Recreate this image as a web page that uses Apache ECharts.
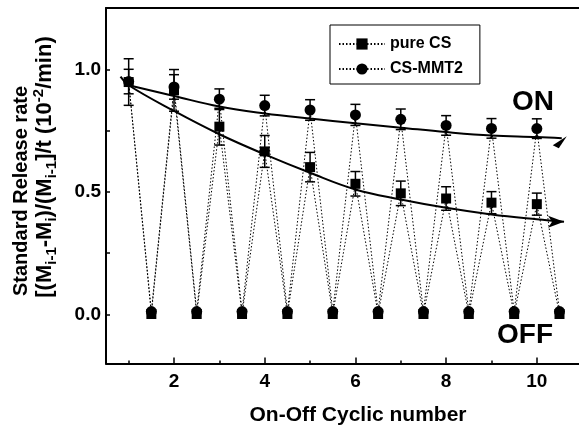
<!DOCTYPE html>
<html><head><meta charset="utf-8">
<script src="https://cdn.jsdelivr.net/npm/echarts@6/dist/echarts.min.js"></script>
<style>html,body{margin:0;padding:0;background:#fff}#c{width:579px;height:426px}</style>
</head><body><div id="c"></div>
<script>
// ---- data ----
var cycleOn  = [1, 2, 3, 4, 5, 6, 7, 8, 9, 10];
var cycleOff = [1.5, 2.5, 3.5, 4.5, 5.5, 6.5, 7.5, 8.5, 9.5, 10.5];
var pureOn   = [0.948, 0.914, 0.766, 0.665, 0.601, 0.533, 0.494, 0.473, 0.456, 0.450];
var pureOff  = [0.002, 0.002, 0.002, 0.002, 0.002, 0.002, 0.002, 0.002, 0.002, 0.002];
var pureErr  = [0.095, 0.085, 0.075, 0.065, 0.060, 0.050, 0.050, 0.048, 0.045, 0.045];
var mmtOn    = [0.950, 0.928, 0.878, 0.852, 0.834, 0.814, 0.796, 0.771, 0.759, 0.758];
var mmtOff   = [0.012, 0.012, 0.012, 0.012, 0.012, 0.012, 0.012, 0.012, 0.012, 0.012];
var mmtErr   = [0.050, 0.050, 0.042, 0.042, 0.042, 0.043, 0.042, 0.040, 0.040, 0.040];
var fitOnX   = [1, 2, 3, 4, 5, 6, 7, 8, 9, 10, 10.55];
var fitOnY   = [0.935, 0.891, 0.848, 0.820, 0.799, 0.780, 0.762, 0.744, 0.730, 0.724, 0.719];
var fitOffX  = [0.82, 1, 2, 3, 4, 5, 6, 7, 8, 9, 10, 10.6];
var fitOffY  = [0.970, 0.935, 0.830, 0.735, 0.653, 0.578, 0.510, 0.469, 0.435, 0.408, 0.388, 0.378];
var xMajorTicks = [2, 4, 6, 8, 10];
var xMinorTicks = [1, 3, 5, 7, 9];
var yTickValues = [0, 0.25, 0.5, 0.75, 1.0];
var yLabelValues = [0, 0.5, 1.0];
var seriesNames = ['pure CS', 'CS-MMT2'];

var FONT = '"Liberation Sans", Arial, sans-serif';
var X_MIN = 0.5, X_MAX = 10.93, Y_MIN = -0.2, Y_MAX = 1.25;

function zig(on, off) {
  var d = [];
  for (var i = 0; i < cycleOn.length; i++) { d.push([cycleOn[i], on[i]]); d.push([cycleOff[i], off[i]]); }
  return d;
}
function errData(on, err) {
  return cycleOn.map(function (x, i) { return [x, on[i], err[i]]; });
}
function fitData(xs, ys, endSym) {
  return xs.map(function (x, i) {
    var p = { value: [x, ys[i]] };
    if (i === xs.length - 1) { for (var k in endSym) p[k] = endSym[k]; }
    return p;
  });
}
function renderErr(params, api) {
  var x = api.value(0), y = api.value(1), e = api.value(2);
  var t = api.coord([x, y + e]), b = api.coord([x, y - e]);
  var hw = 5, st = { stroke: '#000', lineWidth: 1.5 };
  return { type: 'group', children: [
    { type: 'line', shape: { x1: t[0], y1: t[1], x2: b[0], y2: b[1] }, style: st },
    { type: 'line', shape: { x1: t[0] - hw, y1: t[1], x2: t[0] + hw, y2: t[1] }, style: st },
    { type: 'line', shape: { x1: b[0] - hw, y1: b[1], x2: b[0] + hw, y2: b[1] }, style: st }
  ]};
}

var chart = echarts.init(document.getElementById('c'), null, { renderer: 'canvas' });
var lbl = { fontFamily: FONT, fontWeight: 'bold', color: '#000' };
chart.setOption({
  animation: false,
  backgroundColor: '#fff',
  grid: { left: 106, right: 0, top: 8, bottom: 62.5, show: false },
  legend: {
    data: seriesNames, orient: 'vertical', left: 330, top: 25,
    borderColor: '#000', borderWidth: 1, padding: [11, 17, 7, 8],
    itemWidth: 46, itemHeight: 14, itemGap: 9,
    textStyle: { fontFamily: FONT, fontWeight: 'bold', fontSize: 16, color: '#000' }
  },
  xAxis: [{
    type: 'value', min: X_MIN, max: X_MAX,
    axisLine: { onZero: false, lineStyle: { color: '#000', width: 2 } },
    axisTick: { inside: true, length: 6, customValues: xMajorTicks, lineStyle: { color: '#000', width: 1.5 } },
    splitLine: { show: false },
    axisLabel: Object.assign({ fontSize: 19, margin: 9, customValues: xMajorTicks,
      formatter: function (v) { return String(v); } }, lbl)
  }, {
    type: 'value', min: X_MIN, max: X_MAX, position: 'bottom',
    axisLine: { show: false, onZero: false },
    axisTick: { inside: true, length: 3, customValues: xMinorTicks, lineStyle: { color: '#000', width: 1.5 } },
    splitLine: { show: false }, axisLabel: { show: false }
  }, {
    type: 'value', min: X_MIN, max: X_MAX, position: 'top',
    axisLine: { show: true, onZero: false, lineStyle: { color: '#000', width: 2 } },
    axisTick: { show: false }, splitLine: { show: false }, axisLabel: { show: false }
  }],
  yAxis: {
    type: 'value', min: Y_MIN, max: Y_MAX,
    axisLine: { onZero: false, lineStyle: { color: '#000', width: 2 } },
    axisTick: { inside: true, length: 4, customValues: yTickValues, lineStyle: { color: '#000', width: 1.5 } },
    splitLine: { show: false },
    axisLabel: Object.assign({ fontSize: 19, margin: 5, customValues: yLabelValues,
      formatter: function (v) { return Number(v).toFixed(1); } }, lbl)
  },
  series: [
    { name: 'fitOn', type: 'line', smooth: 0.4, data: fitData(fitOnX, fitOnY,
        { symbol: 'path://M0,9 L14,0 L6,12 Z', symbolSize: [14, 12], symbolOffset: [-2, 4] }),
      symbol: 'none', showSymbol: true, lineStyle: { color: '#000', width: 2 }, itemStyle: { color: '#000' }, z: 3 },
    { name: 'fitOff', type: 'line', smooth: 0.4, data: fitData(fitOffX, fitOffY,
        { symbol: 'arrow', symbolSize: [9, 16], symbolRotate: -90 }),
      symbol: 'none', showSymbol: true, lineStyle: { color: '#000', width: 2 }, itemStyle: { color: '#000' }, z: 3 },
    { name: 'errPure', type: 'custom', renderItem: renderErr, data: errData(pureOn, pureErr), z: 4 },
    { name: 'errMmt', type: 'custom', renderItem: renderErr, data: errData(mmtOn, mmtErr), z: 4 },
    { name: seriesNames[0], type: 'line', data: zig(pureOn, pureOff), symbol: 'rect', symbolSize: 10, showAllSymbol: true,
      lineStyle: { color: '#000', width: 1, type: [1.5, 2] }, itemStyle: { color: '#000' }, z: 5 },
    { name: seriesNames[1], type: 'line', data: zig(mmtOn, mmtOff), symbol: 'circle', symbolSize: 11, showAllSymbol: true,
      lineStyle: { color: '#000', width: 1, type: [1.5, 2] }, itemStyle: { color: '#000' }, z: 6 }
  ],
  graphic: [
    { type: 'text', x: 21, y: 191, rotation: Math.PI / 2,
      style: { text: 'Standard Release rate', font: 'bold 20px ' + FONT, fill: '#000', align: 'center', verticalAlign: 'middle' } },
    { type: 'text', x: 45, y: 167, rotation: Math.PI / 2,
      style: {
        text: '{m|[(M}{s|i-1}{m|-M}{s|i}{m|)/(M}{s|i-1}{m|]/t (10}{p|-2}{m|/min)}',
        align: 'center', verticalAlign: 'middle', fill: '#000',
        rich: {
          m: { fontFamily: FONT, fontWeight: 'bold', fontSize: 22, lineHeight: 28, fill: '#000' },
          s: { fontFamily: FONT, fontWeight: 'bold', fontSize: 15, lineHeight: 28, verticalAlign: 'bottom', fill: '#000' },
          p: { fontFamily: FONT, fontWeight: 'bold', fontSize: 15, lineHeight: 28, verticalAlign: 'top', fill: '#000' }
        }
      } },
    { type: 'text', x: 358, y: 415,
      style: { text: 'On-Off Cyclic number', font: 'bold 21px ' + FONT, fill: '#000', align: 'center', verticalAlign: 'middle' } },
    { type: 'text', x: 533, y: 102,
      style: { text: 'ON', font: 'bold 28px ' + FONT, fill: '#000', align: 'center', verticalAlign: 'middle' } },
    { type: 'text', x: 525, y: 335,
      style: { text: 'OFF', font: 'bold 28px ' + FONT, fill: '#000', align: 'center', verticalAlign: 'middle' } }
  ]
});
</script></body></html>
